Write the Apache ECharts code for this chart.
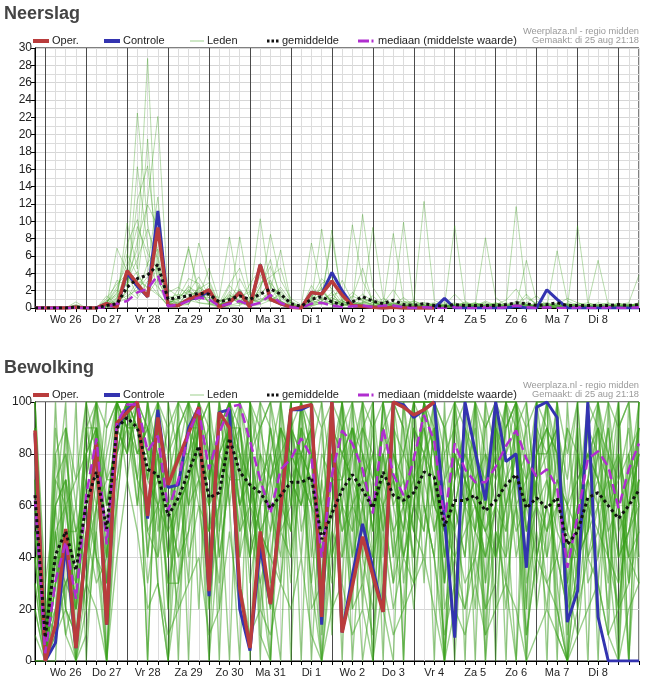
<!DOCTYPE html>
<html><head><meta charset="utf-8">
<script src="https://cdn.jsdelivr.net/npm/echarts@6/dist/echarts.min.js"></script>
<style>html,body{margin:0;padding:0;background:#fff}#c{width:649px;height:686px}</style>
</head><body><div id="c"></div>
<script>
// ---- tick labels (each day label at 12:00, steps of 6 hours, index 0 = di 25 18:00)
const dayLabels = ['Wo 26','Do 27','Vr 28','Za 29','Zo 30','Ma 31','Di 1','Wo 2','Do 3','Vr 4','Za 5','Zo 6','Ma 7','Di 8'];
const precipTicks = [0,2,4,6,8,10,12,14,16,18,20,22,24,26,28,30];
const cloudTicks = [0,20,40,60,80,100];
const legendNames = ['Oper.','Controle','Leden','gemiddelde','mediaan (middelste waarde)'];

// ---- Neerslag (mm)
const precipOper = [0,0,0,0,0.1,0,0,0.5,0.1,4.3, 2.8,1.3,9.3,0.3,0.3,1.0,1.5,2.1,0.1,0.6, 1.8,0.1,5.0,1.0,0.5,0.1,0,1.8,1.6,3.1, 1.5,0.3,0.2,0.1,0,0.1,0,0,0,0];
const precipControl = [0,0,0,0,0.1,0,0,0.5,0.1,4.0, 2.5,1.3,11.2,0.3,0.3,1.0,1.2,2.0,0.1,0.6, 1.8,0.1,5.0,1.0,0.5,0.1,0,1.8,1.6,4.1, 2.0,0.3,0.2,0.1,0,0.1,0,0,0,0, 1.1,0,0,0,0,0,0,0.2,0,0, 2.1,1.0,0,0,0,0,0,0,0,0];
const precipMean = [0,0,0,0,0.1,0,0,0.3,0.5,2.4, 3.4,3.8,5.0,1.0,1.2,1.4,1.7,1.6,0.7,1.0, 1.4,1.0,1.6,2.2,1.6,0.5,0.2,1.0,1.3,0.7, 0.4,0.7,1.3,0.8,0.5,0.9,0.4,0.3,0.5,0.3, 0.2,0.4,0.3,0.3,0.3,0.3,0.4,0.6,0.5,0.3, 0.4,0.6,0.3,0.3,0.3,0.3,0.3,0.4,0.3,0.4];
const precipMedian = [0,0,0,0,0,0,0,0.1,0.5,0.8, 1.8,2.2,3.8,0.2,0.4,0.8,1.2,1.0,0.2,0.5, 0.8,0.3,0.6,1.5,0.6,0.1,0,0.5,0.6,0.3, 0.1,0.2,0.3,0.1,0.3,0.3,0.1,0,0.1,0, 0,0.1,0,0,0.1,0,0.1,0.3,0.1,0, 0.1,0,0,0.1,0,0,0.1,0,0,0.1];
const precipMembers = [
 [0,0,0,0,0,0,0,0.4,1.2,3.5, 6.8,28.8,4.2,0.6,1.1,2.4,1.8,0.9,0.3,0.8, 2.1,0.5,1.4,3.2,0.8,0.2,0,0.6,1.8,0.9, 0.4,0.2,1.1,0.6,0.3,0,0.2,0.8,0.4,0.1, 0,0,0.3,0.6,0.2,0,0,0.4,1.2,0.5, 0.2,0,0,0.3,0.1,0,0,0.2,0.4,0.1],
 [0,0,0,0,0.2,0,0,0.6,2.4,5.1, 22.5,9.8,3.1,1.2,0.5,1.8,3.6,1.4,0.2,1.5, 0.8,0.4,3.8,1.6,0.5,0.1,0,1.2,3.4,2.2, 0.6,1.4,0.8,0.3,0.1,0.4,1.2,0.3,0,0.2, 0.1,0.5,0,0.2,0.8,0.3,0,0,0.6,1.4, 0.3,0.1,0.4,0,0,0.2,0.5,0.1,0,0.3],
 [0,0,0,0,0.7,0,0,0.2,0.8,9.8, 4.5,19.5,2.6,0.4,2.2,6.8,2.1,0.6,0.1,2.6, 1.2,0.2,2.5,4.8,1.4,0.3,0.1,0.4,1.1,1.5, 1.9,0.6,0.2,0.1,0.5,2.1,0.4,0.1,0,0, 0.3,1.6,0.4,0,0.1,0.6,0.2,0.1,0.3,0.2, 0,0.4,1.1,0.6,0.2,0,0,0.1,0.3,0.5],
 [0,0,0,0,0.1,0,0,1.4,0.3,2.2, 12.4,16.4,6.1,0.8,0.6,1.1,7.5,3.2,0.5,0.4, 3.4,1.1,0.6,2.2,6.7,0.6,0,2.6,0.9,0.4, 0.2,9.6,3.1,0.8,0.2,0,0.6,0.3,0.1,0.4, 0.2,0.1,0,0.5,0.3,0,0.1,0.8,0.4,0.2, 0.1,0.6,0.2,0,0.3,0.1,0.2,0.6,0.1,0],
 [0,0,0,0,0,0,0,0.3,6.9,4.2, 3.1,12.5,22.1,1.4,0.9,2.6,1.2,4.6,0.8,1.2, 0.5,2.8,4.5,1.1,2.4,0.8,0.2,0.7,2.8,3.6, 0.8,0.4,10.8,2.4,0.6,0.3,0.1,0.5,0.2,0.1, 0.4,0.2,0.7,0.1,0,0.4,0.9,2.2,0.3,0.1, 0.5,0.2,0.1,0.4,0,0.3,0.1,0,0.2,0.4],
 [0,0,0,0,0.3,0,0,0.8,1.6,7.4, 10.2,4.8,12.8,0.6,0.3,0.4,2.4,1.6,1.2,8.2, 1.4,0.6,1.8,8.5,3.2,1.1,0.4,1.5,0.6,0.8, 0.3,0.6,0.4,9.3,1.2,0.4,0.2,0.1,0.6,0.3, 0.1,0.4,0.2,0.3,8.1,1.2,0.3,0.4,0.2,0.6, 0.2,0,0.3,0.2,0.1,0.4,0.3,0.2,0,0.1],
 [0,0,0,0,0,0,0,0.1,0.5,1.8, 16.3,7.2,1.8,0.2,1.6,7.1,1.3,0.8,0.4,0.7, 8.2,1.5,10.3,2.4,1.2,0.2,0.1,0.3,0.5,1.2, 0.6,1.8,0.9,0.4,0.2,8.6,0.8,0.2,0.1,0.2, 0.3,9.5,0.8,0.2,0.1,0.2,0.6,0.3,1.6,0.4, 0.1,6.6,0.8,0.3,0.2,0.1,0.2,0.4,0.3,0.2],
 [0,0,0,0,0.2,0,0,0.5,3.2,2.6, 7.8,11.9,9.4,0.9,0.4,0.8,1.1,2.6,0.2,1.9, 0.6,0.3,2.4,5.6,0.7,0.4,0,0.9,9.1,1.6, 0.5,0.2,0.6,1.4,0.3,0.2,9.9,0.4,0.2,0.1, 0.2,0.1,0.4,0.6,0.2,0.1,0.3,11.7,1.4,0.3, 0.4,0.2,0.1,9.5,0.6,0.2,0.1,0.3,0.2,0.1],
 [0,0,0,0,0.1,0,0,0.2,1.1,4.6, 9.4,6.3,4.4,1.8,2.4,1.5,0.6,0.4,0.6,2.8, 4.6,0.9,0.8,1.4,0.9,0.1,0.2,7.5,2.1,0.6, 0.4,0.6,1.6,0.8,0.6,0.3,0.2,0.6,12.3,0.9, 0.3,0.2,0.1,0.4,0.6,0.3,0.2,0.1,5.5,0.8, 0.2,0.1,0.6,0.2,0.4,5.5,0.3,0.1,0.2,0.6],
 [0,0,0,0,0,0,0,0.9,0.4,3.1, 5.6,9.1,5.6,0.5,1.2,3.4,2.8,1.1,0.9,0.5, 1.6,0.8,2.9,3.6,4.6,0.5,0.1,1.1,1.4,8.1, 1.2,0.4,0.3,0.2,0.4,0.6,0.3,0.2,0.4,0.6, 0.2,0.3,0.1,0.2,0.4,0.1,0.2,0.3,0.6,0.2, 0.3,0.4,0.2,0.6,0.3,0.1,0.2,0.4,0.6,3.8],
 [0,0,0,0,0.4,0,0,0.6,2.1,0.9, 2.6,4.1,8.2,0.3,0.8,0.5,1.9,0.7,0.3,0.9, 2.2,0.4,1.1,0.8,1.6,0.6,0.1,0.5,0.7,0.4, 0.9,1.2,4.6,0.6,0.3,0.4,0.8,0.5,0.3,0.2, 0.1,0.4,0.3,0.1,0.2,0.5,0.4,0.2,0.3,0.1, 0.2,0.3,0.4,0.1,0.2,0.3,0.1,0.2,0.1,0.4],
 [0,0,0,0,0,0,0,0.3,1.8,6.2, 3.8,2.2,4.9,0.7,0.2,2.2,0.9,1.8,0.2,1.4, 0.9,0.7,5.2,2.6,0.4,0.3,0,0.8,2.4,0.6, 3.2,0.8,0.4,0.2,0.6,0.2,0.4,0.3,0.2,0.4, 0.6,0.2,0.4,0.2,0.3,0.6,0.2,0.4,0.2,0.3, 0.6,0.2,0.3,0.4,0.2,0.6,0.4,0.2,0.3,0.2],
 [0,0,0,0,0.2,0,0,0.4,0.9,1.4, 2.1,3.6,2.4,1.1,1.6,1.2,2.2,2.9,0.4,0.6, 1.2,1.9,0.9,1.8,2.1,0.4,0.1,0.6,1.0,1.2, 0.5,0.8,1.1,0.6,0.4,0.3,0.6,0.8,0.3,0.2, 0.4,0.6,0.3,0.5,0.2,0.4,0.3,0.6,0.4,0.2, 0.3,0.5,0.2,0.4,0.6,0.3,0.2,0.5,0.3,0.6],
 [0,0,0,0,0.1,0,0,0.7,1.4,2.8, 4.2,1.6,3.3,0.6,0.9,1.9,1.4,1.2,0.7,1.1, 0.7,0.5,1.6,2.9,1.3,0.6,0.2,0.9,0.4,0.9, 0.3,0.5,0.7,0.4,0.8,0.5,0.2,0.4,0.6,0.3, 0.2,0.4,0.5,0.3,0.6,0.2,0.4,0.5,0.3,0.4, 0.6,0.3,0.5,0.2,0.4,0.3,0.6,0.2,0.4,0.3],
 [0,0,0,0,0,0,0,0.2,0.6,1.1, 3.2,2.4,1.5,0.4,0.3,0.9,0.6,0.5,0.2,0.3, 0.6,0.2,0.4,0.9,0.3,0.1,0,0.2,0.6,9.0, 0.8,0.3,0.2,0.6,0.2,0.1,0.3,0.2,0.1,0.3, 0.2,0.1,0.2,0.3,0.1,0.2,0.1,0.3,0.2,0.1, 0.2,0.3,0.1,0.2,0.1,0.2,0.3,0.1,0.2,0.1],
 [0,0,0,0,0.3,0,0,1.1,2.8,3.9, 1.4,5.2,6.8,2.2,1.3,2.0,0.8,1.9,0.6,1.6, 0.4,1.2,1.9,0.7,1.9,0.2,0,1.3,2.2,0.5, 0.7,0.3,0.5,0.9,0.2,0.6,0.3,0.1,0.2,0.5, 0.3,0.2,0.6,0.2,0.3,0.4,0.2,0.1,0.4,0.2, 0.1,0.2,0.4,0.3,0.2,0.1,0.3,0.2,0.5,0.2],
 [0,0,0,0,0,0,0,0.1,0.3,2.1, 1.1,3.1,1.6,0.2,0.6,0.4,2.6,0.4,0.1,0.2, 0.3,0.9,0.7,1.2,0.8,0.1,0,0.3,0.8,1.8, 0.2,0.4,0.6,0.3,1.1,0.2,0.1,0.3,0.2,0.1, 0.2,0.3,0.1,0.2,0.4,0.2,0.3,0.2,0.1,0.3, 0.2,0.1,0.3,0.1,0.2,0.4,0.1,0.3,0.2,0.4]
];

// ---- Bewolking (%)
const cloudOper = [89,0,14,51,5,45,84,14,92,96, 100,56,94,68,78,88,98,27,96,90, 28,5,50,22,59,97,98,99,17,100, 11,29,48,33,19,100,98,95,97,100];
const cloudControl = [88,0,7,45,5,45,84,14,90,97, 100,55,97,67,68,90,98,25,96,97, 20,4,44,22,59,97,97,99,14,100, 11,33,53,36,19,100,99,94,97,100, 55,9,100,81,62,100,77,80,36,98, 100,94,15,27,100,17,0,0,0,0];
const cloudMean = [64,9,41,50,35,61,73,51,90,94, 90,74,72,56,63,73,83,63,65,86, 73,68,65,59,64,69,69,71,47,57, 66,72,66,59,73,64,62,65,73,71, 52,62,62,64,58,62,68,72,59,63, 59,63,45,50,63,65,60,55,60,66];
const cloudMedian = [62,3,31,46,24,64,86,45,92,99, 99,81,87,58,70,88,97,74,88,98, 99,85,70,57,74,78,86,79,40,72, 89,84,74,57,90,72,64,78,95,85, 54,84,74,69,69,75,83,89,78,71, 74,67,36,56,78,81,75,59,74,84];
const cloudMembers = [
 [70,0,30,60,20,90,100,40,100,100, 100,60,90,40,80,100,100,60,90,100, 80,40,60,90,70,100,100,20,30,100, 40,80,100,60,90,100,70,40,100,80, 30,90,100,60,40,100,90,100,50,70, 100,80,20,60,100,90,40,20,70,100],
 [40,0,60,20,0,30,90,70,80,100, 100,90,60,30,50,80,100,20,60,90, 100,70,30,0,90,60,100,100,10,50, 90,100,40,20,70,90,30,60,100,100, 60,0,70,90,30,60,100,80,10,40, 60,100,30,10,50,80,100,60,0,60],
 [90,10,20,70,50,60,40,20,100,90, 70,100,80,60,30,60,90,100,40,70, 100,90,50,20,60,80,40,90,60,20, 70,40,90,100,60,30,80,100,60,40, 0,60,40,100,80,20,70,90,100,60, 30,40,60,90,30,40,80,100,30,90],
 [20,0,80,40,60,100,80,0,70,100, 90,50,40,100,80,40,60,30,100,80, 50,100,80,60,30,90,70,60,50,80, 100,60,0,30,100,70,50,90,80,100, 80,40,20,50,100,80,60,0,70,100, 90,20,0,40,90,100,70,30,80,40],
 [100,20,10,30,40,70,100,60,90,80, 100,70,100,80,90,100,70,80,20,100, 60,80,90,100,80,50,100,80,100,70, 30,90,70,80,40,100,90,60,100,50, 70,100,90,30,60,90,40,100,80,30, 60,90,70,100,40,60,20,90,100,60],
 [60,0,40,90,10,40,60,80,100,100, 80,80,70,50,20,70,100,90,70,90, 40,60,80,30,100,70,60,100,40,90, 60,30,80,70,90,40,100,70,50,90, 40,80,60,70,20,30,100,60,40,80, 100,70,60,30,70,90,50,20,60,80],
 [80,0,50,10,30,80,90,30,60,100, 100,100,50,70,60,90,80,70,100,60, 90,70,40,80,50,90,80,30,70,40, 80,90,60,40,80,50,20,80,90,70, 40,70,80,100,60,40,90,100,30,50, 20,60,90,80,60,30,70,40,50,70],
 [50,10,70,80,50,20,50,90,100,90, 90,60,80,20,70,30,100,40,80,100, 70,90,20,70,80,40,90,60,20,60, 100,80,50,90,30,80,60,20,70,100, 90,50,30,40,80,60,20,70,90,40, 70,50,40,60,80,70,90,60,40,30],
 [30,0,20,50,20,60,80,50,90,100, 80,90,100,60,40,50,90,80,50,100, 90,50,70,60,40,80,70,90,30,80, 50,70,30,60,70,90,40,60,50,90, 20,40,50,60,50,70,80,40,60,90, 40,80,10,50,70,40,60,70,90,50],
 [100,30,60,70,40,90,70,20,100,100, 100,70,60,80,100,90,70,50,60,80, 60,80,100,90,60,100,50,70,60,30, 70,100,80,50,100,60,40,70,80,60, 50,80,60,20,70,100,60,80,70,20, 50,70,50,80,40,50,80,60,30,70],
 [10,0,30,40,0,50,30,40,80,90, 90,80,30,0,60,70,80,90,40,70, 80,30,60,0,70,30,80,50,0,50, 40,60,70,0,60,80,70,50,40,70, 0,60,40,80,0,50,40,60,0,70, 80,30,0,40,60,80,40,0,70,80],
 [70,0,90,60,70,80,100,90,100,80, 100,40,90,70,90,60,100,70,90,100, 40,100,70,80,100,60,90,40,80,70, 100,50,90,80,50,100,90,30,100,80, 30,100,70,50,90,100,80,90,20,100, 70,100,30,70,80,60,30,80,60,90],
 [40,0,10,90,60,30,60,70,70,90, 60,100,70,30,30,80,60,50,70,90, 60,70,50,40,30,70,60,80,40,60, 80,70,60,30,80,40,60,90,70,50, 70,30,60,70,30,90,70,50,60,40, 60,40,20,30,90,70,60,10,80,60],
 [90,10,50,20,10,50,90,60,90,100, 90,90,40,60,70,90,90,60,30,80, 90,60,90,70,90,80,70,60,90,40, 60,90,40,70,60,30,50,80,60,40, 90,70,90,80,50,40,60,70,80,60, 40,60,90,40,50,90,70,80,40,50],
 [60,0,30,50,50,70,40,30,100,100, 70,60,70,90,50,100,80,20,80,70, 70,40,60,90,60,50,100,90,50,100, 90,60,80,50,90,70,80,100,90,60, 80,90,70,40,60,80,50,90,40,80, 90,80,50,20,60,70,40,30,50,70],
 [80,20,40,30,20,60,80,60,80,100, 100,80,90,40,60,70,100,80,60,100, 80,70,50,60,90,70,80,70,30,70, 70,80,90,70,80,60,70,50,80,70, 50,60,80,70,80,70,100,60,70,90, 80,90,40,60,70,60,90,50,60,80],
 [50,0,70,60,30,80,60,40,100,90, 100,50,60,70,80,60,70,60,70,90, 50,60,40,80,60,90,60,80,40,80, 60,50,70,60,70,50,60,70,100,80, 60,50,70,60,50,60,70,80,60,70, 50,70,60,50,80,70,50,60,70,90],
 [30,0,0,70,0,20,100,0,90,100, 100,0,100,20,100,0,100,0,100,60, 0,100,10,0,100,0,100,0,70,100, 0,100,20,100,0,100,0,100,30,100, 0,100,0,100,10,100,0,100,20,100, 0,100,0,90,0,100,10,100,0,100],
 [100,0,100,20,100,0,60,100,100,70, 100,0,100,100,0,100,90,100,0,100, 100,0,100,30,0,100,100,80,0,100, 100,20,100,0,100,100,0,100,100,0, 100,20,100,0,100,0,100,100,0,100, 100,0,100,40,100,0,100,0,100,30],
 [0,0,60,100,0,100,40,0,100,100, 60,100,30,0,100,100,20,100,70,0, 100,100,0,100,60,100,0,100,100,10, 100,0,60,100,20,0,100,50,100,100, 0,100,60,100,0,100,30,0,100,60, 100,10,0,100,50,100,60,100,0,100],
 [60,0,20,30,40,80,90,20,100,100, 90,70,100,50,90,100,100,80,70,100, 70,50,30,50,80,90,100,60,40,90, 80,70,100,40,100,80,60,100,100,90, 40,70,90,70,60,80,100,90,60,80, 90,60,30,50,90,80,70,60,40,100],
 [20,0,50,60,20,40,70,30,90,80, 100,40,80,60,40,70,90,50,80,90, 60,40,80,70,50,60,90,80,20,60, 90,40,60,80,50,70,40,60,90,70, 30,60,80,50,70,40,60,80,50,60, 70,40,20,80,60,50,40,80,60,70],
 [80,10,60,70,30,70,100,70,100,100, 100,90,70,60,80,80,100,70,90,100, 100,80,60,70,90,80,80,90,60,80, 70,90,70,60,80,90,80,70,100,100, 70,80,70,80,70,90,80,100,70,80, 80,90,60,70,80,90,80,70,80,90],
 [90,0,40,10,0,10,50,0,60,100, 70,30,60,0,30,50,70,0,50,80, 30,10,40,20,50,40,70,30,0,40, 60,20,30,10,50,20,40,30,60,40, 10,30,20,40,20,50,30,60,10,40, 30,20,0,20,40,30,10,20,30,50],
 [70,0,80,90,70,100,100,100,100,100, 100,100,100,90,100,100,100,100,100,100, 100,100,90,100,100,100,100,100,90,100, 100,100,100,90,100,100,100,100,100,100, 90,100,100,100,90,100,100,100,90,100, 100,100,80,100,100,100,100,90,100,100],
 [0,0,10,20,10,30,20,0,40,70, 50,20,30,10,20,30,40,10,20,50, 20,10,20,10,30,20,40,10,0,20, 30,10,20,0,30,10,20,30,40,20, 0,20,10,30,10,20,30,20,0,10, 20,10,0,10,20,30,10,0,20,30],
 [50,0,30,80,40,90,90,50,100,90, 80,90,80,40,70,80,90,60,80,90, 90,60,70,50,70,90,80,90,30,90, 80,90,80,50,90,70,50,90,80,90, 50,80,70,60,40,60,90,100,50,70, 90,80,40,40,70,100,80,40,60,80],
 [40,0,40,40,30,50,90,40,80,100, 100,80,60,50,60,70,90,40,60,90, 80,60,50,40,70,50,80,70,50,70, 50,60,50,40,60,70,60,40,80,60, 50,40,60,50,40,60,50,70,40,60, 50,60,50,40,50,60,70,40,50,60]
];

const FONT = "'Liberation Sans', Arial, Helvetica, sans-serif";
const RED = '#b93c3c', BLUE = '#3333b0', PURPLE = '#b02ecf', BLACK = '#111';
const MEMBER_P = 'rgba(60,160,30,0.36)';
const MEMBER_C = 'rgba(55,160,25,0.5)';
const pts = arr => arr.map((v, i) => [i, v]);

function xAxisFor(g) {
  return {
    type: 'value', gridIndex: g, min: 0, max: 59, interval: 1,
    axisLine: { show: true, onZero: false, lineStyle: { color: '#000', width: 1 } },
    axisTick: { show: true, length: 4, lineStyle: { color: '#000' } },
    axisLabel: { color: '#222', fontSize: 11, fontFamily: FONT, margin: 6,
      formatter: v => { const k = (v - 3) / 4; return (Number.isInteger(k) && dayLabels[k]) ? dayLabels[k] : ''; } },
    splitLine: { show: true, showMinLine: true, showMaxLine: true,
      lineStyle: { color: ['#dcdcdc', '#4a4a4a', '#dcdcdc', '#dcdcdc'], width: 1 } }
  };
}
function yAxisFor(g, ticks, minor) {
  return {
    type: 'value', gridIndex: g, min: ticks[0], max: ticks[ticks.length - 1], interval: ticks[1] - ticks[0],
    axisLine: { show: true, lineStyle: { color: '#000' } },
    axisTick: { show: true, length: 4, lineStyle: { color: '#000' } },
    axisLabel: { color: '#222', fontSize: 12, fontFamily: FONT, margin: 3 },
    splitLine: { show: true, lineStyle: { color: '#d6d6d6' } },
    minorTick: { show: false, splitNumber: minor },
    minorSplitLine: { show: minor > 1, lineStyle: { color: '#dcdcdc' } }
  };
}
function line(name, g, data, color, width, type, z) {
  return { name, type: 'line', xAxisIndex: g, yAxisIndex: g, data: pts(data), symbol: 'none', showSymbol: false,
    silent: true, z, lineStyle: { color, width, type }, itemStyle: { color }, emphasis: { disabled: true } };
}

const series = [];
precipMembers.forEach(m => series.push(line('Leden', 0, m, MEMBER_P, 1, 'solid', 2)));
series.push(line('Controle', 0, precipControl, BLUE, 3, 'solid', 3));
series.push(line('Oper.', 0, precipOper, RED, 3.5, 'solid', 4));
series.push(line('mediaan (middelste waarde)', 0, precipMedian, PURPLE, 2.5, 'dashed', 5));
series.push(line('gemiddelde', 0, precipMean, BLACK, 3, 'dotted', 6));
cloudMembers.forEach(m => series.push(line('Leden', 1, m, MEMBER_C, 1.4, 'solid', 2)));
series.push(line('Controle', 1, cloudControl, BLUE, 3, 'solid', 3));
series.push(line('Oper.', 1, cloudOper, RED, 3.5, 'solid', 4));
series.push(line('mediaan (middelste waarde)', 1, cloudMedian, PURPLE, 2.5, 'dashed', 5));
series.push(line('gemiddelde', 1, cloudMean, BLACK, 3, 'dotted', 6));

// legend drawn as graphic (icon line + real text)
const legendIcons = [
  { x1: 33, x2: 49, stroke: RED, lineWidth: 4 },
  { x1: 104, x2: 120, stroke: BLUE, lineWidth: 4 },
  { x1: 190, x2: 204, stroke: 'rgba(60,160,30,0.5)', lineWidth: 1 },
  { x1: 267, x2: 279, stroke: BLACK, lineWidth: 3, lineDash: [2.5, 2] },
  { x1: 358, x2: 374, stroke: PURPLE, lineWidth: 3, lineDash: [11, 2.5, 2, 9] }
];
const legendTextX = [52, 123, 207, 282, 378];
const graphic = [];
[[0, 3, 'Neerslag'], [354, 357, 'Bewolking']].forEach(([dy, ty, txt]) => {
  graphic.push({ type: 'text', left: 4, top: ty + 2, style: { text: txt, fill: '#444', font: 'bold 18px ' + FONT } });
  graphic.push({ type: 'text', right: 10, top: 26.5 + dy, style: { text: 'Weerplaza.nl - regio midden', fill: '#9a9a9a', font: '9.3px ' + FONT } });
  graphic.push({ type: 'text', right: 10, top: 36 + dy, style: { text: 'Gemaakt: di 25 aug 21:18', fill: '#9a9a9a', font: '9.3px ' + FONT } });
  const cy = 41 + dy;
  legendIcons.forEach((ic, k) => {
    graphic.push({ type: 'line', silent: true, shape: { x1: ic.x1, y1: cy, x2: ic.x2, y2: cy },
      style: { stroke: ic.stroke, lineWidth: ic.lineWidth, lineDash: ic.lineDash || null } });
    graphic.push({ type: 'text', silent: true, x: legendTextX[k], y: cy,
      style: { text: legendNames[k], fill: '#222', font: '11px ' + FONT, textVerticalAlign: 'middle', verticalAlign: 'middle' } });
  });
});

const chart = echarts.init(document.getElementById('c'), null, { renderer: 'canvas' });
chart.setOption({
  animation: false,
  backgroundColor: '#fff',
  textStyle: { fontFamily: FONT },
  grid: [
    { left: 35, top: 48, width: 604, height: 260, show: true, borderColor: '#000', borderWidth: 1, backgroundColor: 'transparent' },
    { left: 35, top: 402, width: 604, height: 259, show: true, borderColor: '#000', borderWidth: 1, backgroundColor: 'transparent' }
  ],
  xAxis: [xAxisFor(0), xAxisFor(1)],
  yAxis: [yAxisFor(0, precipTicks, 2), yAxisFor(1, cloudTicks, 1)],
  graphic,
  series
});
</script>
</body></html>
